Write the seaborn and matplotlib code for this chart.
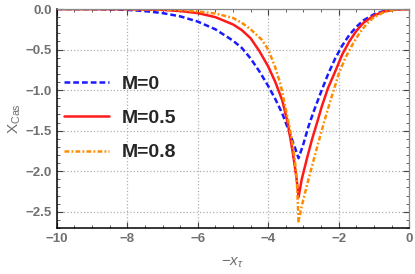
import numpy as np
import pandas as pd
import seaborn as sns
import matplotlib.pyplot as plt
from matplotlib.ticker import MultipleLocator

# values
x_m0 = [-10, -9, -8, -7.5, -7, -6.5, -6, -5.5, -5, -4.75, -4.5, -4.25, -4,
        -3.8, -3.6, -3.4, -3.25, -3.14, -3.0, -2.86, -2.7, -2.5, -2.3, -2.1,
        -1.9, -1.7, -1.5, -1.3, -1.0, -0.7, -0.4, 0]
y_m0 = [0, -0.002, -0.01, -0.025, -0.05, -0.09, -0.155, -0.25, -0.39, -0.48,
        -0.61, -0.77, -0.95, -1.11, -1.29, -1.52, -1.70, -1.84, -1.66, -1.45,
        -1.25, -1.02, -0.80, -0.61, -0.45, -0.32, -0.22, -0.14, -0.065,
        -0.022, -0.004, 0]

x_m5 = [-10, -8, -7, -6.5, -6, -5.5, -5, -4.75, -4.5, -4.25, -4, -3.8, -3.6,
        -3.45, -3.3, -3.2, -3.14, -3.05, -2.9, -2.76, -2.6, -2.48, -2.3, -2.1,
        -1.9, -1.7, -1.5, -1.3, -1.0, -0.7, -0.4, 0]
y_m5 = [0, -0.002, -0.01, -0.025, -0.05, -0.10, -0.19, -0.26, -0.36, -0.52,
        -0.71, -0.90, -1.13, -1.40, -1.78, -2.08, -2.32, -2.10, -1.84, -1.61,
        -1.38, -1.20, -0.97, -0.77, -0.56, -0.40, -0.27, -0.17, -0.08,
        -0.028, -0.006, 0]

x_m8 = [-10, -8, -7, -6.5, -6, -5.5, -5, -4.75, -4.5, -4.18, -4, -3.81, -3.65,
        -3.52, -3.4, -3.33, -3.25, -3.19, -3.14, -3.05, -2.9, -2.76, -2.6,
        -2.4, -2.2, -2.0, -1.82, -1.6, -1.4, -1.2, -1.0, -0.7, -0.4, 0]
y_m8 = [0, -0.001, -0.005, -0.013, -0.03, -0.055, -0.11, -0.17, -0.25, -0.38,
        -0.50, -0.71, -0.93, -1.20, -1.45, -1.61, -1.85, -2.10, -2.62, -2.43,
        -2.17, -1.94, -1.68, -1.37, -1.08, -0.80, -0.61, -0.43, -0.29, -0.18,
        -0.10, -0.035, -0.008, 0]

LABELS = ["M=0", "M=0.5", "M=0.8"]
COLORS = ["#1a1aff", "#ff1a1a", "#ff8c00"]

df = pd.concat([
    pd.DataFrame({"x": x_m0, "y": y_m0, "M": LABELS[0]}),
    pd.DataFrame({"x": x_m5, "y": y_m5, "M": LABELS[1]}),
    pd.DataFrame({"x": x_m8, "y": y_m8, "M": LABELS[2]}),
])

sns.set_style("ticks")
plt.rcParams["font.family"] = ["Liberation Sans", "DejaVu Sans"]
plt.rcParams["mathtext.fontset"] = "custom"
plt.rcParams["mathtext.rm"] = "Liberation Sans"
plt.rcParams["mathtext.it"] = "Liberation Sans:italic"

fig = plt.figure(figsize=(4.15, 2.74), dpi=100)
ax = fig.add_axes([0.137, 0.168, 0.849, 0.799])

sns.lineplot(
    data=df, x="x", y="y", hue="M", style="M", ax=ax,
    palette=COLORS, sort=False, estimator=None, linewidth=1.8,
    dashes=[(2.3, 1.2), "", (1.9, 0.9, 0.7, 0.9)],
)

ax.set_xlim(-10, 0)
ax.set_ylim(-2.7, 0)
ax.xaxis.set_major_locator(MultipleLocator(2))
ax.xaxis.set_minor_locator(MultipleLocator(0.5))
ax.yaxis.set_major_locator(MultipleLocator(0.5))
ax.yaxis.set_minor_locator(MultipleLocator(0.1))
ax.grid(True, which="major", linestyle=":", color="#b0b0b0", linewidth=0.9)

grey = "#707070"
ax.tick_params(which="both", direction="in", top=True, right=True,
               colors="#444444", labelcolor=grey)
ax.tick_params(which="major", length=4, width=0.8, labelsize=9.5)
ax.tick_params(which="minor", length=2, width=0.6)
ax.set_xticks([-10, -8, -6, -4, -2, 0])
ax.set_xticklabels(["\u221210", "\u22128", "\u22126", "\u22124", "\u22122", "0"])
ax.set_yticks([0, -0.5, -1.0, -1.5, -2.0, -2.5])
ax.set_yticklabels(["0.0", "\u22120.5", "\u22121.0", "\u22121.5", "\u22122.0", "\u22122.5"])
for lab in ax.get_xticklabels() + ax.get_yticklabels():
    lab.set_fontweight("bold")

for s in ["left", "bottom"]:
    ax.spines[s].set_color("black")
    ax.spines[s].set_linewidth(1.1)
for s in ["top", "right"]:
    ax.spines[s].set_color("#888888")
    ax.spines[s].set_linewidth(0.9)

ax.set_xlabel(r"$-x_{\tau}$", color=grey, fontsize=11, labelpad=8)
ax.set_ylabel(r"$\mathregular{X_{Cas}}$", color=grey, fontsize=11)
ax.yaxis.set_label_coords(-0.095, 0.5)

ax.legend(loc="upper left", bbox_to_anchor=(0.113, 0.79),
          bbox_transform=fig.transFigure, frameon=False,
          handlelength=2.3, handletextpad=0.65, labelspacing=0.86,
          prop={"family": "Liberation Sans", "weight": "bold", "size": 14})

fig.savefig("out.png", dpi=100)
